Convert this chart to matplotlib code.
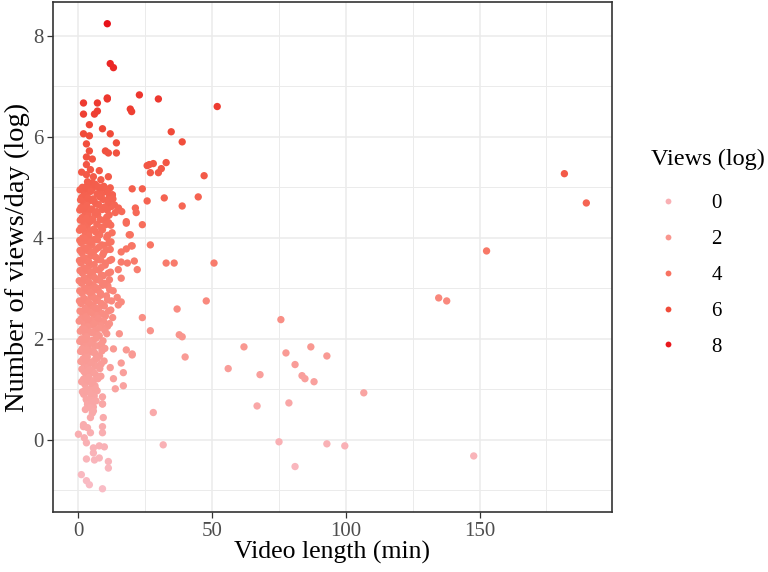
import matplotlib
matplotlib.use("Agg")
import matplotlib.pyplot as plt
from matplotlib.colors import LinearSegmentedColormap, Normalize
from matplotlib.lines import Line2D
from matplotlib.ticker import MultipleLocator

plt.rcParams["font.family"] = ["Liberation Serif", "DejaVu Serif"]

# Ausreisser / lockere Punkte (Laenge in min, Views/Tag log)
sparse_x = [10.8, 11.9, 13.1, 22.8, 29.9, 51.9, 19.4, 19.9, 10.8, 34.7, 38.8,
            25.7, 28.0, 32.8, 26.9, 29.9, 31.0, 47.0, 20.1, 23.9, 25.7, 32.1,
            44.8, 38.8, 21.3, 21.6, 23.9, 19.4, 20.1, 26.9, 20.9, 22.0, 32.8,
            35.8, 50.7, 47.8, 36.9, 23.9, 26.9, 37.7, 38.8, 75.7, 20.1, 39.9,
            61.9, 77.6, 86.9, 92.9, 56.0, 67.9, 81.0, 83.6, 84.7, 88.1, 152.6,
            134.7, 137.7, 106.7, 66.8, 78.7, 75.0, 92.9, 99.6, 147.8, 81.0,
            28.0, 31.7, 181.7, 189.9, 13.1, 17.9, 20.1, 16.0, 11.9, 16.8, 13.1,
            16.8, 13.8, 9.0, 9.0, 14.9, 16.0, 15.3, 17.9, 19.0, 16.0, 17.9,
            19.8, 16.0, 18.3, 14.9, 16.0, 11.6, 12.7, 26.5]
sparse_y = [8.24, 7.45, 7.37, 6.83, 6.75, 6.60, 6.55, 6.50, 6.75, 6.10, 5.90,
            5.43, 5.47, 5.49, 5.29, 5.29, 5.37, 5.23, 4.97, 4.97, 4.73, 4.79,
            4.81, 4.63, 4.59, 4.50, 4.26, 4.06, 3.84, 3.86, 3.54, 3.37, 3.50,
            3.50, 3.50, 2.75, 2.59, 2.42, 2.16, 2.08, 2.04, 2.38, 1.68, 1.64,
            1.84, 1.72, 1.84, 1.66, 1.41, 1.29, 1.49, 1.27, 1.21, 1.15, 3.74,
            2.81, 2.75, 0.93, 0.67, 0.73, -0.04, -0.08, -0.12, -0.32, -0.53,
            0.54, -0.10, 5.27, 4.69, 1.80, 1.78, 1.70, 1.52, 1.43, 1.33, 1.21,
            1.07, 1.01, 0.85, 0.71, 2.67, 2.73, 2.10, 4.29, 4.06, 3.72, 3.78,
            3.84, 3.52, 3.50, 3.37, 3.20, 4.81, 4.85, 5.45]

# oberer Teil der kurzen Videos (y > 5)
top_x = [1.9, 7.1, 10.8, 1.9, 6.0, 7.1, 4.1, 1.9, 4.1, 9.0, 11.9, 14.2, 3.0,
         4.1, 10.1, 11.2, 14.2, 3.0, 5.2, 3.0, 4.5, 7.8, 5.6, 3.0, 11.2, 3.4,
         5.2, 6.3, 8.4, 1.2]
top_y = [6.67, 6.67, 6.77, 6.45, 6.45, 6.51, 6.24, 6.06, 6.02, 6.16, 6.06,
         5.88, 5.86, 5.72, 5.72, 5.68, 5.68, 5.60, 5.56, 5.45, 5.35, 5.33,
         5.21, 5.25, 5.21, 5.11, 5.09, 5.03, 5.15, 5.30]

# dichter Kern: y-Niveau -> Laengen
core_rows = {
    5.00: [1.5, 3.4, 5.2, 6.3, 8.1, 9.5, 11.9],
    4.90: [2.2, 4.0, 7.0, 10.3, 12.7],
    4.80: [1.2, 3.0, 5.5, 8.6, 11.6],
    4.70: [2.0, 4.4, 6.6, 9.2, 13.5],
    4.60: [1.0, 3.1, 5.0, 7.5, 10.8, 12.3, 15.0],
    4.50: [2.5, 4.1, 6.2, 8.9, 11.5, 16.2],
    4.40: [1.4, 3.6, 5.4, 7.2, 9.8],
    4.30: [2.1, 4.8, 6.9, 8.2, 12.1, 17.9],
    4.20: [1.0, 3.3, 5.7, 10.2],
    4.10: [2.6, 4.3, 7.4, 9.0, 11.0],
    4.00: [1.6, 3.9, 6.0, 8.0],
    3.90: [1.1, 2.9, 5.1, 7.1, 9.6, 12.2],
    3.80: [2.0, 4.2, 6.5, 8.7],
    3.70: [1.3, 3.5, 5.6, 10.4],
    3.60: [2.4, 4.6, 7.3, 9.1, 11.7],
    3.50: [1.0, 3.2, 5.9, 8.3],
    3.40: [2.1, 4.0, 6.4, 10.0],
    3.30: [1.5, 3.7, 5.3, 7.7, 9.3, 12.0],
    3.20: [2.7, 4.5, 6.8, 8.6],
    3.10: [1.2, 3.3, 5.5, 7.9, 11.0],
    3.00: [2.3, 4.1, 6.2, 9.0, 13.0],
    2.90: [1.4, 3.6, 5.0, 7.4, 10.5],
    2.80: [2.0, 4.7, 6.6, 8.2, 12.4, 14.5],
    2.70: [1.0, 3.0, 5.4, 7.1, 9.7],
    2.60: [2.5, 4.3, 6.0, 8.8, 11.3],
    2.50: [1.6, 3.5, 5.8, 7.6, 10.1],
    2.40: [1.1, 2.9, 4.9, 6.9, 9.4, 12.8],
    2.30: [2.2, 4.0, 5.6, 8.0, 10.9],
    2.20: [1.5, 3.4, 6.4, 8.5],
    2.10: [2.6, 4.5, 7.2, 9.9],
    2.00: [1.2, 3.1, 5.2, 7.8],
    1.90: [2.0, 4.2, 6.1, 9.2],
    1.80: [1.4, 3.6, 5.5, 7.5],
    1.70: [2.5, 4.8, 6.7, 8.8],
    1.60: [1.7, 3.3, 5.9, 7.9],
    1.50: [2.2, 4.1, 6.3, 9.6],
    1.40: [1.3, 3.5, 5.2, 7.3],
    1.30: [2.8, 4.6, 6.8],
    1.20: [1.9, 3.9, 5.6, 8.4],
    1.10: [2.4, 4.4, 6.2],
    1.00: [3.2, 5.1, 7.0],
    0.90: [2.0, 4.0, 5.9],
    0.80: [2.9, 4.8, 6.6],
    0.70: [3.4, 5.3],
    0.60: [2.6, 4.5, 5.6],
}
# Luecken zwischen den Reihen
core_rows2 = {
    4.95: [0.6, 2.8, 4.6, 7.4, 10.9],
    4.75: [0.8, 3.6, 5.9, 8.0, 11.1, 12.9],
    4.55: [0.5, 2.0, 6.9, 9.8, 13.8],
    4.35: [0.7, 2.9, 4.3, 10.6, 11.3],
    4.15: [0.4, 1.9, 6.4, 8.4, 12.6],
    3.95: [0.5, 2.3, 4.6, 10.6, 11.4],
    3.75: [0.6, 2.7, 4.9, 7.6, 9.4, 11.9],
    3.55: [0.4, 1.8, 3.9, 6.6, 10.1, 12.4],
    3.35: [0.6, 2.8, 4.6, 8.5, 11.2],
    3.15: [0.3, 2.1, 3.9, 6.1, 9.6, 11.6],
    2.95: [0.5, 2.9, 4.6, 6.7, 8.3, 11.7],
    2.75: [0.4, 2.3, 3.9, 6.0, 8.6, 10.9],
    2.55: [0.6, 2.7, 4.7, 6.6, 9.0, 12.1],
    2.35: [0.3, 3.4, 6.2, 7.4, 11.6],
    2.15: [0.7, 2.4, 5.2, 7.8, 10.6],
    1.95: [0.5, 2.7, 4.8, 6.6, 8.6],
    1.75: [0.8, 3.0, 6.1, 9.9],
    1.55: [0.9, 2.9, 4.8, 7.0, 8.5],
    1.35: [2.1, 4.0, 6.0, 8.0],
    1.15: [1.2, 3.2, 5.0, 7.3],
    0.95: [1.5, 2.6, 4.6, 6.4],
}
# kleine Versaetze, damit die Reihen nicht wie ein Raster aussehen
jitter_y = [0.0, 0.04, -0.03, 0.06, -0.05, 0.02, -0.01]

# unterer Rand (y < 0.8)
low_x = [0.0, 1.9, 3.0, 3.0, 6.0, 7.8, 11.2, 11.2, 1.1, 3.0, 4.1, 9.0, 5.6,
         5.6, 7.8, 9.7, 2.2, 4.5, 9.0, 9.0, 9.3, 9.0, 5.2, 4.5, 1.9, 3.4,
         5.6, 3.4]
low_y = [0.11, 0.26, -0.06, -0.38, -0.40, -0.36, -0.43, -0.56, -0.69, -0.81,
         -0.89, -0.97, -0.26, -0.16, -0.12, -0.14, 0.04, 0.14, 0.14, 0.26,
         0.44, 0.71, 0.53, 0.44, 0.30, 0.24, 0.65, 0.75]

legend_breaks = [0, 2, 4, 6, 8]

xs = sparse_x + top_x + low_x
ys = sparse_y + top_y + low_y
for rows in (core_rows, core_rows2):
    for lvl, row in rows.items():
        for i, xv in enumerate(row):
            xs.append(xv)
            ys.append(lvl + jitter_y[i % len(jitter_y)])

cmap = LinearSegmentedColormap.from_list(
    "views", [(0.0, "#f9bcc5"), (0.33, "#f9958d"), (0.55, "#f8715f"),
              (0.76, "#f04b39"), (1.0, "#e8121a")])
norm = Normalize(vmin=min(ys), vmax=max(ys))

fig = plt.figure(figsize=(7.68, 5.72), dpi=100)
ax = fig.add_axes([53 / 768, 1 - 512 / 572, (612 - 53) / 768, (510 / 572)])

ax.scatter(xs, ys, c=ys, cmap=cmap, norm=norm, s=28, linewidths=0, zorder=3)

ax.set_xlim(-9.5, 199.5)
ax.set_ylim(-1.43, 8.67)
ax.xaxis.set_major_locator(MultipleLocator(50))
ax.xaxis.set_minor_locator(MultipleLocator(25))
ax.yaxis.set_major_locator(MultipleLocator(2))
ax.yaxis.set_minor_locator(MultipleLocator(1))
ax.grid(which="major", color="#ebebeb", linewidth=1.1, zorder=0)
ax.grid(which="minor", color="#ebebeb", linewidth=0.7, zorder=0)
ax.set_axisbelow(True)
ax.tick_params(which="minor", length=0)
ax.tick_params(which="major", length=4, width=0.9, color="#333333",
               labelsize=15, labelcolor="#4d4d4d", pad=3)
for s in ax.spines.values():
    s.set_color("#333333")
    s.set_linewidth(1.2)

ax.set_xlabel("Video length (min)", fontsize=18.5, labelpad=0)
ax.set_ylabel("Number of views/day (log)", fontsize=20.5, labelpad=2)

handles = [Line2D([], [], linestyle="none", marker="o", markersize=4.2,
                  markeredgewidth=0, color=cmap(norm(b))) for b in legend_breaks]
leg = fig.legend(handles, [str(b) for b in legend_breaks], title="Views (log)",
                 loc="upper left", bbox_to_anchor=(651 / 768, 1 - 149 / 572),
                 frameon=False, fontsize=15, title_fontsize=17.5,
                 labelspacing=0.78, handletextpad=1.3, handlelength=1.6,
                 borderpad=0, borderaxespad=0, alignment="left")
# etwas mehr Abstand zwischen Titel und Eintraegen
leg._legend_box.sep = 17

fig.savefig("out.png", dpi=100)
